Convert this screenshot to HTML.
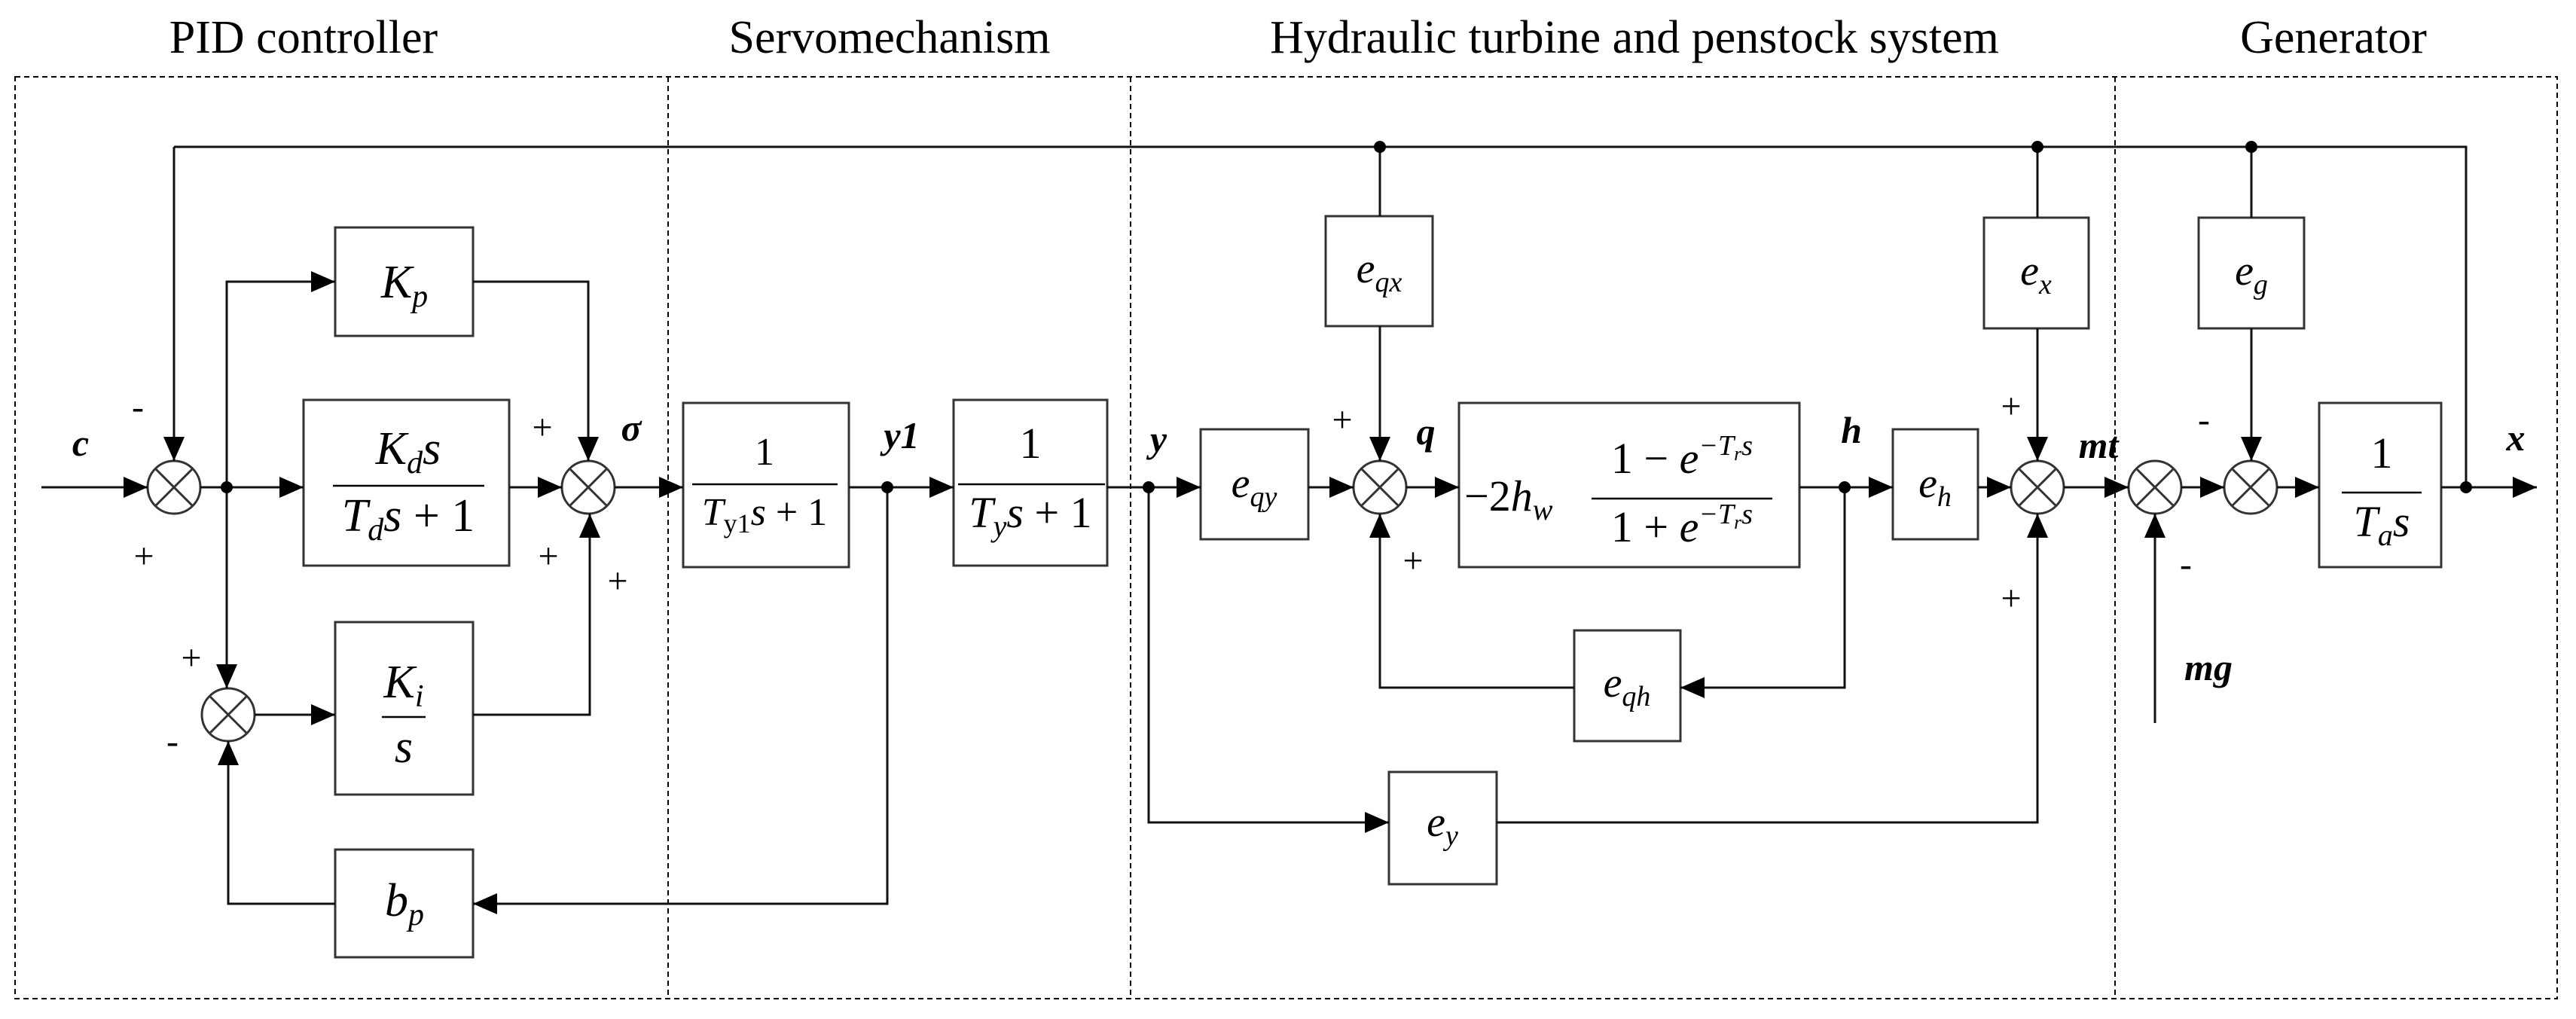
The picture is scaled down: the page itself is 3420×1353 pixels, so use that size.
<!DOCTYPE html>
<html><head><meta charset="utf-8"><style>
html,body{margin:0;padding:0;background:#fff;}
svg{display:block;}
.t{font-family:"Liberation Serif",serif;}
.m{font-family:"Liberation Serif",serif;font-style:italic;}
.b{font-family:"Liberation Serif",serif;font-style:italic;font-weight:bold;}
</style></head><body>
<svg width="3420" height="1353" viewBox="0 0 3420 1353" xmlns="http://www.w3.org/2000/svg">
<defs>
<marker id="a" markerUnits="userSpaceOnUse" markerWidth="34" markerHeight="28" refX="32" refY="14" orient="auto">
<path d="M0,0 L32,14 L0,28 z" fill="#000"/></marker>
<g id="s" fill="#fff" stroke="#333" stroke-width="3"><circle cx="0" cy="0" r="35"/><line x1="-25" y1="-25" x2="25" y2="25"/><line x1="-25" y1="25" x2="25" y2="-25"/></g>
</defs>
<rect x="0" y="0" width="3420" height="1353" fill="#fff"/>
<!-- titles -->
<g class="t" font-size="62" fill="#000" text-anchor="middle">
<text x="403" y="70">PID controller</text>
<text x="1181" y="70">Servomechanism</text>
<text x="2170" y="70">Hydraulic turbine and penstock system</text>
<text x="3098" y="70">Generator</text>
</g>
<!-- dashed frames -->
<g fill="none" stroke="#000" stroke-width="2" stroke-dasharray="7 5">
<rect x="20" y="102" width="3375" height="1224"/>
<line x1="887" y1="102" x2="887" y2="1326"/>
<line x1="1501" y1="102" x2="1501" y2="1326"/>
<line x1="2808" y1="102" x2="2808" y2="1326"/>
</g>
<!-- boxes -->
<g fill="none" stroke="#333" stroke-width="3">
<rect x="445" y="302" width="183" height="144"/>
<rect x="403" y="531" width="273" height="220"/>
<rect x="445" y="826" width="183" height="229"/>
<rect x="445" y="1128" width="183" height="143"/>
<rect x="907" y="535" width="220" height="218"/>
<rect x="1266" y="531" width="204" height="220"/>
<rect x="1594" y="570" width="143" height="146"/>
<rect x="1760" y="287" width="142" height="146"/>
<rect x="1937" y="535" width="452" height="218"/>
<rect x="2513" y="570" width="113" height="146"/>
<rect x="2634" y="289" width="139" height="147"/>
<rect x="2090" y="837" width="141" height="147"/>
<rect x="1844" y="1025" width="143" height="149"/>
<rect x="2919" y="289" width="140" height="147"/>
<rect x="3079" y="535" width="162" height="218"/>
</g>
<!-- sum junctions -->
<use href="#s" x="231" y="647"/>
<use href="#s" x="781" y="647"/>
<use href="#s" x="303" y="949"/>
<use href="#s" x="1832" y="647"/>
<use href="#s" x="2705" y="647"/>
<use href="#s" x="2861" y="647"/>
<use href="#s" x="2988" y="647"/>
<!-- connectors -->
<g fill="none" stroke="#111" stroke-width="3">
<line x1="55" y1="647" x2="196" y2="647" marker-end="url(#a)"/>
<line x1="266" y1="647" x2="403" y2="647" marker-end="url(#a)"/>
<polyline points="301,647 301,374 445,374" marker-end="url(#a)"/>
<line x1="301" y1="647" x2="301" y2="914" marker-end="url(#a)"/>
<line x1="676" y1="647" x2="746" y2="647" marker-end="url(#a)"/>
<polyline points="628,374 781,374 781,612" marker-end="url(#a)"/>
<polyline points="628,949 783,949 783,682" marker-end="url(#a)"/>
<line x1="816" y1="647" x2="907" y2="647" marker-end="url(#a)"/>
<line x1="1127" y1="647" x2="1266" y2="647" marker-end="url(#a)"/>
<polyline points="1178,647 1178,1200 628,1200" marker-end="url(#a)"/>
<polyline points="445,1200 303,1200 303,984" marker-end="url(#a)"/>
<line x1="338" y1="949" x2="445" y2="949" marker-end="url(#a)"/>
<line x1="231" y1="195" x2="231" y2="612" marker-end="url(#a)"/>
<polyline points="231,195 3274,195 3274,647"/>
<line x1="1470" y1="647" x2="1594" y2="647" marker-end="url(#a)"/>
<polyline points="1525,647 1525,1092 1844,1092" marker-end="url(#a)"/>
<line x1="1737" y1="647" x2="1797" y2="647" marker-end="url(#a)"/>
<line x1="1832" y1="195" x2="1832" y2="287"/>
<line x1="1832" y1="433" x2="1832" y2="612" marker-end="url(#a)"/>
<line x1="1867" y1="647" x2="1937" y2="647" marker-end="url(#a)"/>
<line x1="2389" y1="647" x2="2513" y2="647" marker-end="url(#a)"/>
<polyline points="2449,647 2449,913 2231,913" marker-end="url(#a)"/>
<polyline points="2090,913 1832,913 1832,682" marker-end="url(#a)"/>
<line x1="2626" y1="647" x2="2670" y2="647" marker-end="url(#a)"/>
<line x1="2705" y1="195" x2="2705" y2="289"/>
<line x1="2705" y1="436" x2="2705" y2="612" marker-end="url(#a)"/>
<polyline points="1987,1092 2705,1092 2705,682" marker-end="url(#a)"/>
<line x1="2740" y1="647" x2="2826" y2="647" marker-end="url(#a)"/>
<line x1="2896" y1="647" x2="2953" y2="647" marker-end="url(#a)"/>
<line x1="2861" y1="960" x2="2861" y2="682" marker-end="url(#a)"/>
<line x1="2989" y1="195" x2="2989" y2="289"/>
<line x1="2989" y1="436" x2="2989" y2="612" marker-end="url(#a)"/>
<line x1="3023" y1="647" x2="3079" y2="647" marker-end="url(#a)"/>
<line x1="3241" y1="647" x2="3368" y2="647" marker-end="url(#a)"/>
</g>
<!-- dots -->
<g fill="#000">
<circle cx="301" cy="647" r="8"/><circle cx="1178" cy="647" r="8"/><circle cx="1525" cy="647" r="8"/>
<circle cx="2449" cy="647" r="8"/><circle cx="3274" cy="647" r="8"/>
<circle cx="1832" cy="195" r="8"/><circle cx="2705" cy="195" r="8"/><circle cx="2989" cy="195" r="8"/>
</g>
<!-- fraction bars -->
<g stroke="#000" stroke-width="2.5">
<line x1="442" y1="645" x2="643" y2="645"/>
<line x1="507" y1="952" x2="565" y2="952"/>
<line x1="919" y1="643" x2="1112" y2="643"/>
<line x1="1272" y1="643" x2="1467" y2="643"/>
<line x1="2113" y1="662" x2="2353" y2="662"/>
<line x1="3109" y1="654" x2="3215" y2="654"/>
</g>
<!-- math labels -->
<g class="m" fill="#000" text-anchor="middle">
<text x="537" y="395" font-size="62">K<tspan font-size="42" dy="12">p</tspan></text>
<text x="537" y="1216" font-size="62">b<tspan font-size="42" dy="12">p</tspan></text>
<text x="542" y="616" font-size="62">K<tspan font-size="42" dy="12">d</tspan><tspan dy="-12">s</tspan></text>
<text x="542" y="705" font-size="62">T<tspan font-size="42" dy="12">d</tspan><tspan dy="-12">s</tspan><tspan font-style="normal"> + 1</tspan></text>
<text x="536" y="926" font-size="62">K<tspan font-size="42" dy="12">i</tspan></text>
<text x="536" y="1012" font-size="62">s</text>
<text x="1015" y="617" font-size="52" font-style="normal">1</text>
<text x="1015" y="697" font-size="52">T<tspan font-size="36" dy="10" font-style="normal">y1</tspan><tspan dy="-10">s</tspan><tspan font-style="normal"> + 1</tspan></text>
<text x="1368" y="608" font-size="58" font-style="normal">1</text>
<text x="1368" y="700" font-size="58">T<tspan font-size="40" dy="12">y</tspan><tspan dy="-12">s</tspan><tspan font-style="normal"> + 1</tspan></text>
<text x="1665" y="660" font-size="56">e<tspan font-size="38" dy="12">qy</tspan></text>
<text x="1831" y="375" font-size="56">e<tspan font-size="38" dy="12">qx</tspan></text>
<text x="2569" y="660" font-size="56">e<tspan font-size="38" dy="12">h</tspan></text>
<text x="2703" y="378" font-size="56">e<tspan font-size="38" dy="12">x</tspan></text>
<text x="2989" y="378" font-size="56">e<tspan font-size="38" dy="12">g</tspan></text>
<text x="2160" y="925" font-size="56">e<tspan font-size="38" dy="12">qh</tspan></text>
<text x="1915" y="1110" font-size="56">e<tspan font-size="38" dy="12">y</tspan></text>
<text x="3162" y="621" font-size="58" font-style="normal">1</text>
<text x="3162" y="712" font-size="58">T<tspan font-size="40" dy="12">a</tspan><tspan dy="-12">s</tspan></text>
<text x="2233" y="628" font-size="58"><tspan font-style="normal">1 − </tspan>e<tspan font-size="38" dy="-24">−T</tspan><tspan font-size="26" dy="7">r</tspan><tspan font-size="38" dy="-7">s</tspan></text>
<text x="2233" y="719" font-size="58"><tspan font-style="normal">1 + </tspan>e<tspan font-size="38" dy="-24">−T</tspan><tspan font-size="26" dy="7">r</tspan><tspan font-size="38" dy="-7">s</tspan></text>
</g>
<text class="m" x="1944" y="678" font-size="58" fill="#000"><tspan font-style="normal">−2</tspan>h<tspan font-size="40" dy="12">w</tspan></text>
<!-- signal labels -->
<g class="b" fill="#000" font-size="50" text-anchor="middle">
<text x="107" y="605">c</text>
<text x="838" y="585">σ</text>
<text x="1197" y="595">y1</text>
<text x="1538" y="600">y</text>
<text x="1893" y="590">q</text>
<text x="2458" y="588">h</text>
<text x="2786" y="608">mt</text>
<text x="2932" y="903">mg</text>
<text x="3340" y="598">x</text>
</g>
<!-- signs -->
<g class="t" fill="#000" font-size="48" text-anchor="middle">
<text x="183" y="556">-</text>
<text x="191" y="754">+</text>
<text x="720" y="583">+</text>
<text x="728" y="754">+</text>
<text x="820" y="787">+</text>
<text x="254" y="889">+</text>
<text x="229" y="1000">-</text>
<text x="1782" y="573">+</text>
<text x="1876" y="760">+</text>
<text x="2670" y="555">+</text>
<text x="2670" y="810">+</text>
<text x="2902" y="765">-</text>
<text x="2926" y="573">-</text>
</g>
</svg>
</body></html>
